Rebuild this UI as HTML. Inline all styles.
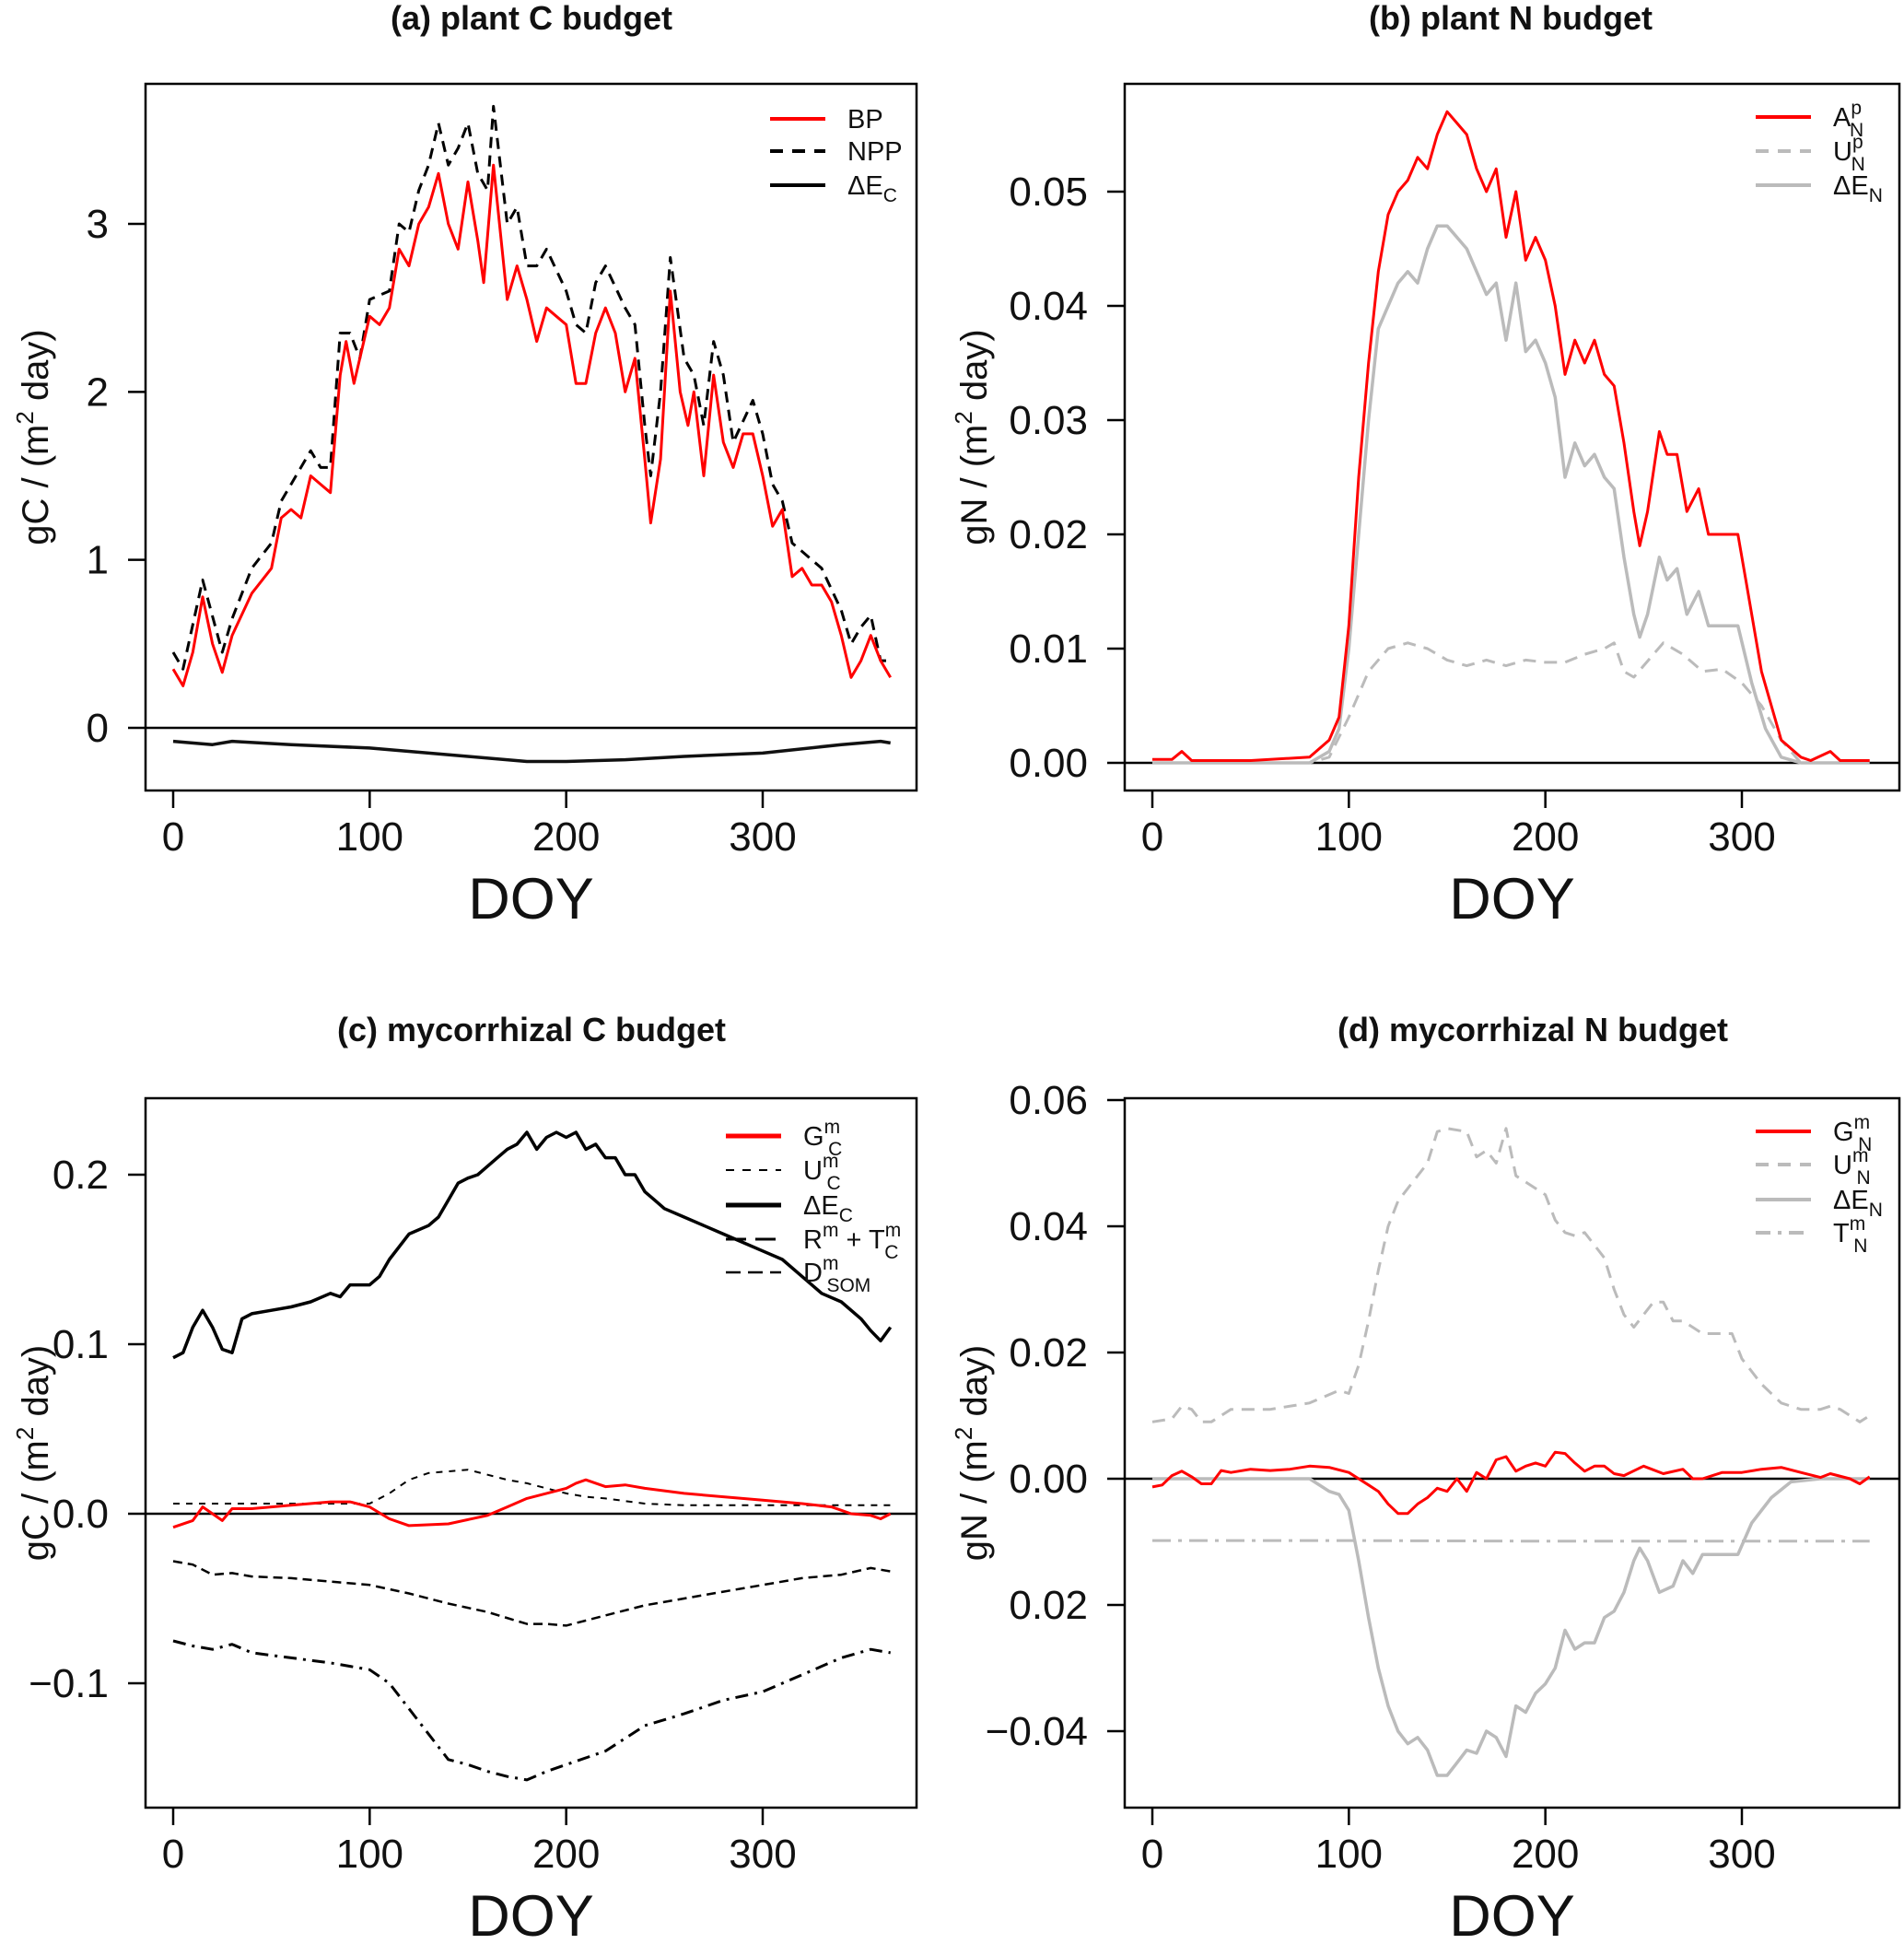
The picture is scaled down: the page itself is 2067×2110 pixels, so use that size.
<!DOCTYPE html>
<html><head><meta charset="utf-8"><style>
html,body{margin:0;padding:0;background:#fff}
svg{display:block;font-family:"Liberation Sans",Arial,sans-serif}
</style></head><body>
<svg id="fig" width="2067" height="2110" viewBox="0 0 2067 2110" xmlns="http://www.w3.org/2000/svg"></svg>
<script>
// ---------- data: panel (a) plant C budget ----------
const aBPdoy=[0,5,10,15,20,25,30,40,50,55,60,65,70,75,80,85,88,92,100,105,110,115,120,125,130,135,140,145,150,155,158,163,170,175,180,185,190,195,200,205,210,215,220,225,230,235,240,243,248,253,258,262,265,270,275,280,285,290,295,300,305,310,315,320,325,330,335,340,345,350,355,360,365];
const aBP=[0.35,0.25,0.45,0.78,0.5,0.33,0.55,0.8,0.95,1.25,1.3,1.25,1.5,1.45,1.4,2.1,2.3,2.05,2.45,2.4,2.5,2.85,2.75,3.0,3.1,3.3,3.0,2.85,3.25,2.9,2.65,3.35,2.55,2.75,2.55,2.3,2.5,2.45,2.4,2.05,2.05,2.35,2.5,2.35,2.0,2.2,1.6,1.22,1.6,2.6,2.0,1.8,2.0,1.5,2.1,1.7,1.55,1.75,1.75,1.5,1.2,1.3,0.9,0.95,0.85,0.85,0.75,0.55,0.3,0.4,0.55,0.4,0.3];
const aNPPdoy=[0,5,15,25,30,40,50,55,60,70,75,80,85,90,95,100,110,115,120,125,130,135,140,145,150,155,160,163,170,175,180,185,190,200,205,210,215,220,230,235,240,243,248,253,260,265,270,275,280,285,295,300,305,310,315,320,330,340,345,350,355,360,365];
const aNPP=[0.45,0.35,0.88,0.45,0.65,0.95,1.1,1.35,1.45,1.65,1.55,1.55,2.35,2.35,2.2,2.55,2.6,3.0,2.95,3.2,3.35,3.6,3.35,3.45,3.6,3.3,3.2,3.7,3.0,3.1,2.75,2.75,2.85,2.6,2.4,2.35,2.65,2.75,2.5,2.4,1.8,1.5,2.0,2.8,2.2,2.1,1.8,2.3,2.1,1.7,1.95,1.75,1.45,1.35,1.1,1.05,0.95,0.7,0.5,0.6,0.67,0.4,0.4];
const aDEdoy=[0,20,30,60,100,150,180,200,230,260,300,340,360,365];
const aDE=[-0.08,-0.1,-0.08,-0.1,-0.12,-0.17,-0.2,-0.2,-0.19,-0.17,-0.15,-0.1,-0.08,-0.09];
// ---------- panel (b) plant N budget ----------
const bANdoy=[0,10,15,20,50,80,90,95,100,105,110,115,120,125,130,135,140,145,150,155,160,165,170,175,180,185,190,195,200,205,210,215,220,225,230,235,240,245,248,252,258,262,267,272,278,283,290,298,302,310,315,320,330,335,345,350,365];
const bAN=[0.0003,0.0003,0.001,0.0002,0.0002,0.0005,0.002,0.004,0.012,0.025,0.035,0.043,0.048,0.050,0.051,0.053,0.052,0.055,0.057,0.056,0.055,0.052,0.050,0.052,0.046,0.050,0.044,0.046,0.044,0.040,0.034,0.037,0.035,0.037,0.034,0.033,0.028,0.022,0.019,0.022,0.029,0.027,0.027,0.022,0.024,0.020,0.020,0.020,0.016,0.008,0.005,0.002,0.0005,0.0002,0.001,0.0002,0.0002];
const bUNdoy=[0,80,90,100,110,120,130,140,150,160,170,180,190,200,210,220,230,235,240,245,250,260,270,280,290,300,310,320,330,365];
const bUN=[0,0,0.0005,0.004,0.008,0.010,0.0105,0.010,0.009,0.0085,0.009,0.0085,0.009,0.0088,0.0088,0.0095,0.010,0.0105,0.008,0.0075,0.0085,0.0105,0.0095,0.008,0.0082,0.007,0.005,0.002,0,0];
const bDEdoy=[0,80,90,95,100,105,110,115,120,125,130,135,140,145,150,155,160,165,170,175,180,185,190,195,200,205,210,215,220,225,230,235,240,245,248,252,258,262,267,272,278,283,290,298,305,312,320,330,365];
const bDE=[0,0,0.001,0.003,0.01,0.02,0.030,0.038,0.040,0.042,0.043,0.042,0.045,0.047,0.047,0.046,0.045,0.043,0.041,0.042,0.037,0.042,0.036,0.037,0.035,0.032,0.025,0.028,0.026,0.027,0.025,0.024,0.018,0.013,0.011,0.013,0.018,0.016,0.017,0.013,0.015,0.012,0.012,0.012,0.007,0.003,0.0005,0,0];
// ---------- panel (c) mycorrhizal C budget ----------
const cDEdoy=[0,5,10,15,20,25,30,35,40,50,60,70,80,85,90,100,105,110,120,130,135,140,145,150,155,160,165,170,175,180,185,190,195,200,205,210,215,220,225,230,235,240,245,250,260,270,280,290,300,310,320,330,340,350,355,360,365];
const cDE=[0.092,0.095,0.11,0.12,0.11,0.097,0.095,0.115,0.118,0.12,0.122,0.125,0.13,0.128,0.135,0.135,0.14,0.15,0.165,0.17,0.175,0.185,0.195,0.198,0.2,0.205,0.21,0.215,0.218,0.225,0.215,0.222,0.225,0.222,0.225,0.215,0.218,0.21,0.21,0.2,0.2,0.19,0.185,0.18,0.175,0.17,0.165,0.16,0.155,0.15,0.14,0.13,0.125,0.115,0.108,0.102,0.11];
const cGdoy=[0,10,15,20,25,30,40,60,80,90,100,110,120,140,160,170,180,190,200,205,210,220,230,240,260,280,300,320,335,345,355,360,365];
const cG=[-0.008,-0.004,0.004,0,-0.004,0.003,0.003,0.005,0.007,0.007,0.004,-0.003,-0.007,-0.006,-0.001,0.004,0.009,0.012,0.015,0.018,0.02,0.016,0.017,0.015,0.012,0.01,0.008,0.006,0.004,0,-0.001,-0.003,0];
const cUdoy=[0,100,110,120,130,140,150,160,170,180,190,200,210,220,240,260,300,365];
const cU=[0.006,0.006,0.012,0.02,0.024,0.025,0.026,0.023,0.02,0.018,0.015,0.012,0.01,0.009,0.006,0.005,0.005,0.005];
const cRTdoy=[0,10,20,30,40,60,80,100,120,140,160,180,190,200,220,240,260,280,300,320,340,355,365];
const cRT=[-0.028,-0.03,-0.036,-0.035,-0.037,-0.038,-0.04,-0.042,-0.047,-0.053,-0.058,-0.065,-0.065,-0.066,-0.06,-0.054,-0.05,-0.046,-0.042,-0.038,-0.036,-0.032,-0.034];
const cDdoy=[0,10,20,30,40,60,80,100,110,120,130,140,150,160,170,180,190,200,220,240,260,280,300,320,340,355,365];
const cD=[-0.075,-0.078,-0.08,-0.077,-0.082,-0.085,-0.088,-0.092,-0.1,-0.115,-0.13,-0.145,-0.148,-0.152,-0.155,-0.157,-0.152,-0.148,-0.14,-0.125,-0.118,-0.11,-0.105,-0.095,-0.085,-0.08,-0.082];
// ---------- panel (d) mycorrhizal N budget ----------
const dUdoy=[0,10,15,20,25,30,40,60,80,95,100,105,110,115,120,125,130,135,140,145,150,160,165,170,175,180,185,190,195,200,205,210,215,220,225,230,235,240,245,250,255,260,265,270,275,280,290,295,300,310,320,330,340,345,350,360,365];
const dU=[0.009,0.0095,0.0115,0.011,0.009,0.009,0.011,0.011,0.012,0.014,0.0135,0.018,0.025,0.033,0.04,0.044,0.046,0.048,0.05,0.055,0.0555,0.055,0.051,0.052,0.050,0.0555,0.048,0.047,0.046,0.045,0.041,0.039,0.0385,0.039,0.037,0.035,0.030,0.026,0.024,0.026,0.028,0.028,0.025,0.025,0.024,0.023,0.023,0.023,0.019,0.015,0.012,0.011,0.011,0.0115,0.011,0.009,0.010];
const dGdoy=[0,5,10,15,20,25,30,35,40,50,60,70,80,90,100,105,110,115,120,125,130,135,140,145,150,155,160,165,170,175,180,185,190,195,200,205,210,215,220,225,230,235,240,250,260,270,275,280,290,300,310,320,330,340,345,355,360,365];
const dG=[-0.0013,-0.001,0.0005,0.0012,0.0003,-0.0008,-0.0008,0.0013,0.001,0.0015,0.0013,0.0015,0.002,0.0018,0.001,0,-0.001,-0.002,-0.004,-0.0055,-0.0055,-0.004,-0.003,-0.0015,-0.002,0,-0.002,0.001,0,0.003,0.0035,0.0012,0.002,0.0025,0.002,0.0042,0.004,0.0025,0.0012,0.002,0.002,0.0008,0.0005,0.002,0.0008,0.0015,0,0,0.001,0.001,0.0015,0.0018,0.001,0.0002,0.0008,0,-0.0008,0.0003];
const dDEdoy=[0,80,90,95,100,105,110,115,120,125,130,135,140,145,150,155,160,165,170,175,180,185,190,195,200,205,210,215,220,225,230,235,240,245,248,252,258,265,270,275,280,290,298,305,315,325,340,365];
const dDE=[0,0,-0.002,-0.0025,-0.005,-0.013,-0.022,-0.03,-0.036,-0.040,-0.042,-0.041,-0.043,-0.047,-0.047,-0.045,-0.043,-0.0435,-0.040,-0.041,-0.044,-0.036,-0.037,-0.034,-0.0325,-0.030,-0.024,-0.027,-0.026,-0.026,-0.022,-0.021,-0.018,-0.013,-0.011,-0.013,-0.018,-0.017,-0.013,-0.015,-0.012,-0.012,-0.012,-0.007,-0.003,-0.0005,0,0];
const dTdoy=[0,100,200,300,365];
const dT=[-0.0098,-0.0098,-0.0099,-0.0099,-0.0099];
// tick labels
const xTicks=[0,100,200,300];
const aYTicks=[0,1,2,3];
const bYTicks=[0,0.01,0.02,0.03,0.04,0.05];
const bYLabels=["0.00","0.01","0.02","0.03","0.04","0.05"];
const cYTicks=[-0.1,0,0.1,0.2];
const cYLabels=["\u22120.1","0.0","0.1","0.2"];
const dYTicks=[-0.04,-0.02,0,0.02,0.04,0.06];
const dYLabels=["\u22120.04","0.02","0.00","0.02","0.04","0.06"];

const NS="http://www.w3.org/2000/svg";
const svg=document.getElementById('fig');
function mk(tag,attrs,parent){const e=document.createElementNS(NS,tag);for(const k in attrs)e.setAttribute(k,attrs[k]);(parent||svg).appendChild(e);return e;}

function panel(p){
  const g=mk('g',{});
  
  
  const X=d=>p.x0+(d/300)*(p.x300-p.x0);
  const Y=v=>p.py0+(v-p.v0)*(p.py1-p.py0)/(p.v1-p.v0);
  const t=mk('text',{x:p.tx,y:p.ty,'font-size':36,'font-weight':'bold','text-anchor':'middle',fill:'#111'},g);
  t.textContent=p.title;
  
  
  const z=mk('line',{x1:p.box[0],x2:p.box[2],y1:Y(0),y2:Y(0),stroke:'#000','stroke-width':2.5},g);
  
  
  p.series.forEach(s=>{
    const pts=s.d.map((d,i)=>X(d).toFixed(1)+','+Y(s.v[i]).toFixed(1)).join(' ');
    const l=mk('polyline',{points:pts,fill:'none',stroke:s.c,'stroke-width':s.w,'stroke-dasharray':s.da||'none','stroke-linejoin':'round'},g);
    
    
  });
  const b=mk('rect',{x:p.box[0],y:p.box[1],width:p.box[2]-p.box[0],height:p.box[3]-p.box[1],fill:'none',stroke:'#000','stroke-width':2.5},g);
  
  
  xTicks.forEach(v=>{
    const tk=mk('line',{x1:X(v),x2:X(v),y1:p.box[3],y2:p.box[3]+19,stroke:'#000','stroke-width':2.5},g);
    
    
    const tl=mk('text',{x:X(v),y:p.box[3]+65,'font-size':44,'text-anchor':'middle',fill:'#111'},g);
    tl.textContent=v;
    
    
  });
  p.yt.forEach((v,i)=>{
    const tk=mk('line',{x1:p.box[0]-19,x2:p.box[0],y1:Y(v),y2:Y(v),stroke:'#000','stroke-width':2.5},g);
    
    
    const tl=mk('text',{x:p.box[0]-40,y:Y(v)+15,'font-size':44,'text-anchor':'end',fill:'#111'},g);
    tl.textContent=p.yl[i];
    
    
  });
  const xt=mk('text',{x:(p.box[0]+p.box[2])/2,y:p.box[3]+139,'font-size':63,'text-anchor':'middle',fill:'#111'},g);
  xt.textContent='DOY';
  
  
  const yc=(p.box[1]+p.box[3])/2;
  const yt=mk('text',{x:0,y:0,'font-size':40,'text-anchor':'middle',fill:'#111',transform:`translate(${p.ylx},${yc}) rotate(-90)`},g);
  yt.innerHTML=p.ylab+' / (m<tspan font-size="26" dy="-16">2</tspan><tspan dy="16"> day)</tspan>';
  
  
  p.leg.forEach((L,i)=>{
    const y=p.legY[i];
    const ll=mk('line',{x1:p.legX,x2:p.legX+60,y1:y,y2:y,stroke:L.c,'stroke-width':L.w,'stroke-dasharray':L.da||'none'},g);
    
    
    const tx=mk('text',{x:p.legX+84,y:y+10,'font-size':29,fill:'#111'},g);
    tx.innerHTML=L.t;
    
    
  });
}
const sup=(b,sp,sb)=>`${b}<tspan font-size="21" dy="-13">${sp}</tspan><tspan font-size="21" dx="${-sp.length*13}" dy="24">${sb}</tspan>`;
const subOnly=(b,sb)=>`${b}<tspan font-size="21" dy="8">${sb}</tspan>`;

const DX=1063;
panel({name:'panel-a-plant-c',title:'(a) plant C budget',tx:577,ty:32,box:[158,91,995,858],x0:188,x300:828,py0:790,v0:0,py1:243,v1:3,
  yt:aYTicks,yl:aYTicks.map(String),ylab:'gC',ylx:52,
  series:[{id:'series-npp',d:aNPPdoy,v:aNPP,c:'#000',w:3,da:'12,8'},{id:'series-bp',d:aBPdoy,v:aBP,c:'#f00',w:3},{id:'series-delta-ec',d:aDEdoy,v:aDE,c:'#111',w:3.5}],
  legX:836,legY:[129,164,201],
  leg:[{c:'#f00',w:4,t:'BP'},{c:'#000',w:4,da:'14,10',t:'NPP'},{c:'#000',w:4,t:subOnly('ΔE','C')}]});
panel({name:'panel-b-plant-n',title:'(b) plant N budget',tx:1640,ty:32,box:[1221,91,2062,858],x0:188+DX,x300:828+DX,py0:828,v0:0,py1:208,v1:0.05,
  yt:bYTicks,yl:bYLabels,ylab:'gN',ylx:1071,
  series:[{id:'series-un',d:bUNdoy,v:bUN,c:'#bbb',w:3,da:'14,9'},{id:'series-delta-en',d:bDEdoy,v:bDE,c:'#bbb',w:3.5},{id:'series-an',d:bANdoy,v:bAN,c:'#f00',w:3}],
  legX:1906,legY:[127,164,201],
  leg:[{c:'#f00',w:4,t:sup('A','p','N')},{c:'#bbb',w:4,da:'14,10',t:sup('U','p','N')},{c:'#bbb',w:4,t:subOnly('ΔE','N')}]});
panel({name:'panel-c-myco-c',title:'(c) mycorrhizal C budget',tx:577,ty:1130,box:[158,1192,995,1962],x0:188,x300:828,py0:1643,v0:0,py1:1827,v1:-0.1,
  yt:cYTicks,yl:cYLabels,ylab:'gC',ylx:52,
  series:[{id:'series-uc',d:cUdoy,v:cU,c:'#000',w:2,da:'7,7'},{id:'series-rt',d:cRTdoy,v:cRT,c:'#000',w:2.5,da:'10,6'},{id:'series-dsom',d:cDdoy,v:cD,c:'#000',w:3,da:'14,7,3,7'},{id:'series-delta-ec',d:cDEdoy,v:cDE,c:'#000',w:3.5},{id:'series-gc',d:cGdoy,v:cG,c:'#f00',w:3}],
  legX:788,legY:[1233,1270,1308,1345,1381],
  leg:[{c:'#f00',w:5,t:sup('G','m','C')},{c:'#000',w:2,da:'9,9',t:sup('U','m','C')},{c:'#000',w:5,t:subOnly('ΔE','C')},{c:'#000',w:3,da:'22,10',t:'R<tspan font-size="21" dy="-13">m</tspan><tspan dy="13"> + T</tspan>'+'<tspan font-size="21" dy="-13">m</tspan><tspan font-size="21" dx="-18" dy="24">C</tspan>'},{c:'#000',w:2.5,da:'16,8',t:sup('D','m','SOM')}]});
panel({name:'panel-d-myco-n',title:'(d) mycorrhizal N budget',tx:1664,ty:1130,box:[1221,1192,2062,1962],x0:188+DX,x300:828+DX,py0:1605,v0:0,py1:1194,v1:0.06,
  yt:dYTicks,yl:dYLabels,ylab:'gN',ylx:1071,
  series:[{id:'series-tn',d:dTdoy,v:dT,c:'#bbb',w:3,da:'20,8,4,8'},{id:'series-un',d:dUdoy,v:dU,c:'#bbb',w:3,da:'14,9'},{id:'series-delta-en',d:dDEdoy,v:dDE,c:'#bbb',w:3.5},{id:'series-gn',d:dGdoy,v:dG,c:'#f00',w:3}],
  legX:1906,legY:[1228,1264,1302,1338],
  leg:[{c:'#f00',w:4,t:sup('G','m','N')},{c:'#bbb',w:4,da:'14,10',t:sup('U','m','N')},{c:'#bbb',w:4,t:subOnly('ΔE','N')},{c:'#bbb',w:4,da:'16,8,4,8',t:sup('T','m','N')}]});
</script>
</body></html>
